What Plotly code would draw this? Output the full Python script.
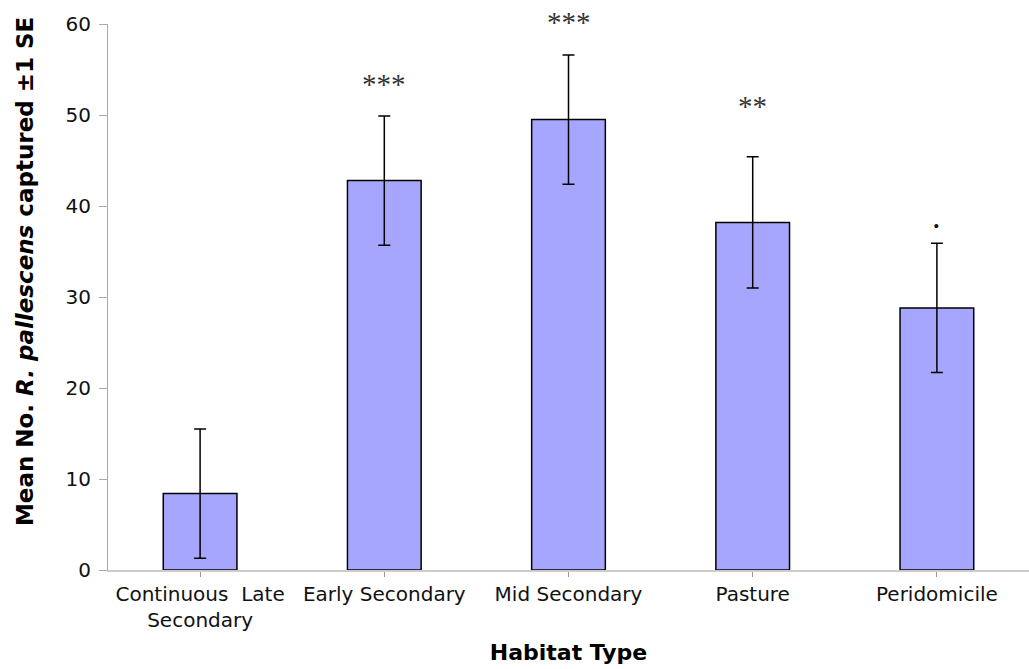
import plotly.graph_objects as go

categories = ["Continuous  Late<br>Secondary", "Early Secondary", "Mid Secondary", "Pasture", "Peridomicile"]
means = [8.4, 42.8, 49.5, 38.2, 28.8]
se = [7.1, 7.1, 7.1, 7.2, 7.1]
sig_labels = ["***", "***", "**", "."]
sig_x = [1, 2, 3, 4]
sig_y = [53.4, 60.2, 51.0, 38.9]
y_max = 60

fig = go.Figure()
fig.add_trace(go.Bar(
    x=list(range(len(categories))), y=means,
    marker=dict(color="#A6A6FF", line=dict(color="black", width=1.5)),
    width=0.4,
    error_y=dict(type="data", array=se, visible=True, color="black", thickness=1.5, width=6),
))

for lab, xx, yy in zip(sig_labels, sig_x, sig_y):
    fig.add_annotation(
        x=xx, y=yy / y_max, xref="x", yref="paper", text=lab, showarrow=False,
        xanchor="center", yanchor="middle",
        font=dict(family="Liberation Serif", size=29 if lab != "." else 34,
                  color="#333333" if lab != "." else "#111111"),
    )

fig.add_annotation(
    text="<b>Mean No. <i>R. pallescens</i> captured ±1 SE</b>",
    xref="paper", yref="paper", x=-0.09, xanchor="center", y=(570 - 272) / 546, yanchor="middle",
    textangle=-90, showarrow=False, font=dict(family="DejaVu Sans", size=23, color="black"),
)

fig.update_layout(
    width=1029, height=669,
    margin=dict(l=108, r=0, t=24, b=99),
    paper_bgcolor="white", plot_bgcolor="white",
    showlegend=False,
    font=dict(family="DejaVu Sans", size=16, color="black"),
)
fig.update_xaxes(
    range=[-0.5, 4.5],
    tickmode="array", tickvals=list(range(len(categories))), ticktext=categories,
    tickson="boundaries", ticks="outside", ticklen=5, tickcolor="#999999",
    showline=True, linecolor="#cccccc", linewidth=1.5,
    tickfont=dict(size=20, color="#111111"),
    title=dict(text="<b>Habitat Type</b>", font=dict(size=22, color="black"), standoff=14),
    showgrid=False, zeroline=False,
)
fig.update_yaxes(
    range=[0, y_max], dtick=10,
    ticks="outside", ticklen=8, tickcolor="#aaaaaa",
    showline=True, linecolor="#aaaaaa", linewidth=1,
    tickfont=dict(size=20, color="#111111"),
    ticklabelstandoff=4,
    showgrid=False, zeroline=False,
)

fig.write_html("out.html")
